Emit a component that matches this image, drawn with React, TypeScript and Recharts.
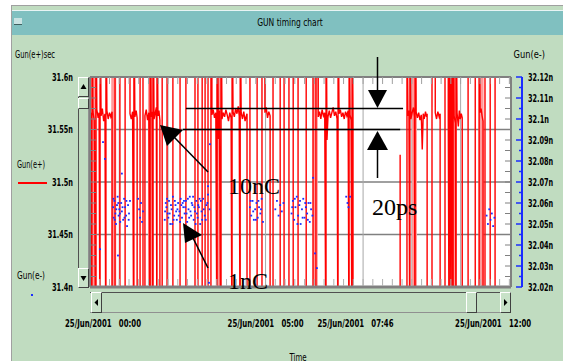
import React from "react";
import {
  CartesianGrid,
  ComposedChart,
  Line,
  ReferenceLine,
  Scatter,
  XAxis,
  YAxis,
} from "recharts";

// time in hours from 25/Jun/2001 00:00, values in ns
// Gun(e+): readings off the scale are kept at 31.3 (below) / 31.7 (above)
const gunPlus: [number, number][] = [
  [-0.4, 31.561], [-0.37, 31.566], [-0.34, 31.3], [-0.34, 31.7], [-0.31, 31.567],
  [-0.27, 31.559], [-0.22, 31.3], [-0.22, 31.7], [-0.19, 31.569], [-0.15, 31.561],
  [-0.12, 31.566], [-0.09, 31.3], [-0.09, 31.7], [-0.06, 31.563], [-0.02, 31.57],
  [0.02, 31.558], [0.06, 31.565], [0.09, 31.3], [0.09, 31.7], [0.12, 31.568],
  [0.16, 31.56], [0.2, 31.566], [0.24, 31.562], [0.28, 31.567], [0.28, 31.3],
  [0.37, 31.3], [0.37, 31.7], [0.52, 31.7], [0.52, 31.3], [0.68, 31.3], [0.68, 31.7],
  [0.83, 31.7], [0.83, 31.565], [0.87, 31.56], [0.91, 31.567], [0.95, 31.3], [0.95, 31.7],
  [0.98, 31.562], [1.02, 31.568], [1.05, 31.561], [1.05, 31.3],
  [1.14, 31.3], [1.14, 31.7], [1.23, 31.7], [1.23, 31.3],
  [1.29, 31.3], [1.29, 31.563], [1.33, 31.569], [1.37, 31.559], [1.41, 31.566],
  [1.45, 31.3], [1.45, 31.7], [1.48, 31.562], [1.51, 31.567], [1.54, 31.3], [1.54, 31.7],
  [1.57, 31.56], [1.61, 31.566], [1.64, 31.571], [1.66, 31.3], [1.66, 31.7],
  [1.69, 31.563], [1.72, 31.568], [1.75, 31.559], [1.75, 31.3],
  [1.82, 31.3], [1.82, 31.7], [1.97, 31.7], [1.97, 31.3], [2.15, 31.3], [2.15, 31.7],
  [2.37, 31.7], [2.37, 31.3], [2.55, 31.3], [2.55, 31.7], [2.83, 31.7], [2.83, 31.3],
  [2.92, 31.3], [2.92, 31.7], [3.05, 31.7], [3.05, 31.3], [3.14, 31.3], [3.14, 31.7],
  [3.23, 31.7], [3.23, 31.3], [3.32, 31.3], [3.32, 31.7],
  [3.35, 31.7], [3.35, 31.564], [3.39, 31.569], [3.43, 31.561], [3.47, 31.566],
  [3.51, 31.3], [3.51, 31.7], [3.55, 31.541], [3.58, 31.568], [3.63, 31.3], [3.63, 31.7],
  [3.66, 31.56], [3.7, 31.566], [3.74, 31.562], [3.78, 31.569], [3.82, 31.564],
  [3.86, 31.558], [3.9, 31.566], [3.94, 31.561], [3.97, 31.3], [3.97, 31.7],
  [4.0, 31.567], [4.04, 31.562], [4.08, 31.57], [4.12, 31.565], [4.16, 31.572],
  [4.19, 31.563], [4.22, 31.3], [4.22, 31.7], [4.25, 31.566], [4.29, 31.56],
  [4.33, 31.567], [4.37, 31.558], [4.4, 31.562], [4.43, 31.565], [4.43, 31.3],
  [4.52, 31.3], [4.52, 31.7], [4.74, 31.7], [4.74, 31.3], [4.89, 31.3], [4.89, 31.7],
  [4.98, 31.7], [4.98, 31.566], [5.02, 31.571], [5.06, 31.561], [5.1, 31.567],
  [5.14, 31.563], [5.14, 31.3],
  [5.23, 31.3], [5.23, 31.7], [5.45, 31.7], [5.45, 31.3], [5.57, 31.3], [5.57, 31.7],
  [5.72, 31.7], [5.72, 31.3], [5.85, 31.3], [5.85, 31.7], [6.0, 31.7], [6.0, 31.3],
  [6.25, 31.3], [6.25, 31.7], [6.46, 31.7], [6.46, 31.3], [6.55, 31.3], [6.55, 31.7],
  [6.62, 31.7], [6.62, 31.562], [6.66, 31.567], [6.7, 31.56], [6.74, 31.569],
  [6.78, 31.563], [6.82, 31.566], [6.86, 31.3], [6.86, 31.7], [6.89, 31.54],
  [6.92, 31.562], [6.96, 31.568], [7.0, 31.561], [7.04, 31.566], [7.08, 31.571],
  [7.12, 31.563], [7.16, 31.567], [7.2, 31.56], [7.23, 31.3], [7.23, 31.7],
  [7.26, 31.565], [7.3, 31.569], [7.34, 31.562], [7.38, 31.566], [7.42, 31.56],
  [7.46, 31.567], [7.5, 31.563], [7.54, 31.568], [7.57, 31.3], [7.57, 31.7],
  [7.6, 31.564], [7.63, 31.559], [7.66, 31.3], [7.66, 31.7], [7.69, 31.566], [7.69, 31.3],
  [9.14, 31.3], [9.14, 31.526], [9.14, 31.3],
  [9.35, 31.3], [9.35, 31.7], [9.38, 31.563], [9.41, 31.568], [9.44, 31.3], [9.44, 31.7],
  [9.47, 31.56], [9.51, 31.566], [9.55, 31.571], [9.58, 31.562], [9.6, 31.3], [9.6, 31.7],
  [9.63, 31.567], [9.67, 31.561], [9.71, 31.566], [9.75, 31.559], [9.79, 31.564],
  [9.82, 31.531], [9.85, 31.565], [9.88, 31.56], [9.92, 31.567], [9.95, 31.562],
  [9.97, 31.565], [9.97, 31.3],
  [10.12, 31.3], [10.12, 31.7],
  [10.22, 31.7], [10.22, 31.566], [10.26, 31.56], [10.3, 31.567], [10.34, 31.562],
  [10.37, 31.565], [10.37, 31.3],
  [10.52, 31.3], [10.52, 31.7],
  [10.62, 31.7], [10.62, 31.561], [10.65, 31.3], [10.65, 31.7], [10.68, 31.558],
  [10.71, 31.3], [10.71, 31.7], [10.74, 31.545], [10.77, 31.3], [10.77, 31.7],
  [10.8, 31.563], [10.84, 31.556], [10.86, 31.3], [10.86, 31.7], [10.89, 31.566],
  [10.93, 31.553], [10.96, 31.568], [10.99, 31.56], [11.02, 31.565], [11.05, 31.561],
  [11.05, 31.3],
  [11.23, 31.3], [11.23, 31.7], [11.45, 31.7], [11.45, 31.3],
  [11.57, 31.3], [11.57, 31.7], [11.6, 31.566], [11.63, 31.57], [11.66, 31.563],
  [11.69, 31.558], [11.69, 31.3],
  [11.75, 31.3], [11.75, 31.7], [11.91, 31.7], [11.91, 31.3], [12.06, 31.3], [12.06, 31.7],
];

// dense bursts of Gun(e+) jumps, seen as wide light-red stripes
const gunPlusBursts: [number, number][] = [
  [-0.26, 31.3], [-0.26, 31.7], [0.33, 31.7], [0.33, 31.3], [1.46, 31.3], [1.46, 31.7],
  [3.56, 31.7], [3.56, 31.3], [6.53, 31.3], [6.53, 31.7], [9.58, 31.7], [9.58, 31.3],
  [10.7, 31.3], [10.7, 31.7], [10.8, 31.7], [10.8, 31.3], [11.63, 31.3], [11.63, 31.7],
];

// Gun(e-) timing, ns
const gunMinus: [number, number][] = [
  [-0.09, 32.038], [0.0, 32.089], [0.06, 32.081], [0.46, 32.035], [0.58, 32.074],
  [0.31, 32.058], [0.33, 32.053], [0.35, 32.061], [0.38, 32.055], [0.4, 32.05],
  [0.43, 32.059], [0.45, 32.063], [0.48, 32.054], [0.5, 32.057], [0.53, 32.051],
  [0.56, 32.06], [0.58, 32.056], [0.62, 32.052], [0.65, 32.062], [0.68, 32.058],
  [0.71, 32.054], [0.74, 32.049], [0.77, 32.059], [0.8, 32.055], [0.83, 32.061],
  [0.32, 32.062], [0.36, 32.052], [0.41, 32.057], [0.47, 32.06], [0.52, 32.055],
  [0.6, 32.058], [0.66, 32.053], [0.72, 32.061], [0.79, 32.052],
  [1.08, 32.062], [1.11, 32.057], [1.14, 32.053], [1.17, 32.06], [1.2, 32.051], [1.23, 32.056],
  [1.9, 32.052], [1.93, 32.06], [1.95, 32.058], [1.99, 32.055], [2.01, 32.053],
  [2.03, 32.061], [2.07, 32.05], [2.09, 32.059], [2.11, 32.057], [2.15, 32.063],
  [2.17, 32.052], [2.19, 32.054], [2.23, 32.059], [2.25, 32.056], [2.27, 32.052],
  [2.31, 32.06], [2.33, 32.054], [2.35, 32.056], [2.39, 32.062], [2.41, 32.059],
  [2.43, 32.053], [2.47, 32.058], [2.49, 32.061], [2.51, 32.055], [2.55, 32.061],
  [2.57, 32.055], [2.59, 32.051], [2.63, 32.057], [2.65, 32.053], [2.67, 32.063],
  [2.71, 32.054], [2.73, 32.06], [2.75, 32.059], [2.79, 32.052], [2.81, 32.058],
  [2.83, 32.056], [2.87, 32.061], [2.89, 32.055], [2.91, 32.053], [2.95, 32.058],
  [2.97, 32.062], [2.99, 32.05], [3.03, 32.056], [3.05, 32.052], [3.08, 32.062],
  [3.13, 32.054], [3.18, 32.059], [3.23, 32.064], [3.28, 32.057],
  [1.91, 32.056], [1.97, 32.062], [2.05, 32.055], [2.13, 32.05], [2.21, 32.061],
  [2.29, 32.057], [2.37, 32.051], [2.45, 32.06], [2.53, 32.058], [2.61, 32.062],
  [2.69, 32.056], [2.77, 32.063], [2.85, 32.05], [2.93, 32.059], [3.01, 32.061],
  [3.1, 32.057], [3.16, 32.052], [3.21, 32.06],
  [3.23, 32.068], [3.26, 32.022], [3.29, 32.088],
  [4.52, 32.058], [4.56, 32.054], [4.6, 32.061], [4.64, 32.052], [4.68, 32.057],
  [4.72, 32.06], [4.76, 32.053], [4.8, 32.058], [4.84, 32.055], [4.88, 32.062], [4.92, 32.051],
  [4.54, 32.061], [4.62, 32.056], [4.7, 32.052], [4.78, 32.061], [4.86, 32.057],
  [5.3, 32.057], [5.35, 32.061], [5.4, 32.054], [5.45, 32.059], [5.5, 32.056], [5.55, 32.06],
  [5.8, 32.055], [5.84, 32.061], [5.88, 32.052], [5.92, 32.058], [5.96, 32.063],
  [6.0, 32.054], [6.04, 32.059], [6.08, 32.05], [6.12, 32.057], [6.16, 32.062],
  [6.2, 32.053], [6.24, 32.058], [6.28, 32.055], [6.32, 32.06], [6.36, 32.051],
  [6.4, 32.057], [6.44, 32.054], [6.46, 32.072], [6.52, 32.036], [6.58, 32.029],
  [5.82, 32.058], [5.9, 32.062], [5.98, 32.05], [6.06, 32.061], [6.14, 32.053],
  [6.22, 32.06], [6.3, 32.052], [6.38, 32.06],
  [7.48, 32.063], [7.52, 32.06], [7.55, 32.058], [7.6, 32.063],
  [11.8, 32.054], [11.84, 32.05], [11.88, 32.057], [11.92, 32.052], [11.96, 32.055],
  [12.0, 32.049], [12.04, 32.053],
];

const timeLabels = [
  { t: 0, text: "25/Jun/2001   00:00" },
  { t: 5, text: "25/Jun/2001   05:00" },
  { t: 7.767, text: "25/Jun/2001   07:46" },
  { t: 12, text: "25/Jun/2001   12:00" },
];
const leftTicks = [
  31.4, 31.41, 31.42, 31.43, 31.44, 31.45, 31.46, 31.47, 31.48, 31.49, 31.5,
  31.51, 31.52, 31.53, 31.54, 31.55, 31.56, 31.57, 31.58, 31.59, 31.6,
];
const rightTicks = [
  32.02, 32.025, 32.03, 32.035, 32.04, 32.045, 32.05, 32.055, 32.06, 32.065, 32.07,
  32.075, 32.08, 32.085, 32.09, 32.095, 32.1, 32.105, 32.11, 32.115, 32.12,
];
const gridLevels = [31.45, 31.5, 31.55];
const gridTimes = [0.5, 2, 3.5, 5, 6.5, 8, 9.5, 11];
// the two 20 ps marker lines
const spreadLines = [
  { y: 31.57, from: 2.55, to: 9.23 },
  { y: 31.55, from: 2.46, to: 9.14 },
];

const X_DOMAIN: [number, number] = [-0.4, 12.55];
const LEFT_DOMAIN: [number, number] = [31.4, 31.6];
const RIGHT_DOMAIN: [number, number] = [32.02, 32.12];

const minorTimes = Array.from({ length: 43 }, (_, i) => +(-0.1 + 0.3 * i).toFixed(2));
const labelTimes = timeLabels.map((d) => d.t);
const bottomTicks = Array.from(new Set([...minorTimes, ...labelTimes])).sort((a, b) => a - b);

const rows = (pts: [number, number][]) => pts.map(([t, v]) => ({ t, v }));

const RED = "#ff0000";
const PINK = "#ff9a9a";
const BLUE = "#1a2cff";
const FRAME = "#808080";
const GREEN = "#c0dcc0";
const TEAL = "#80c0c0";
const NARROW = '"Liberation Sans Narrow", "DejaVu Sans Condensed", sans-serif';
const SERIF = '"Liberation Serif", "DejaVu Serif", serif';

const fmt = (v: number) => `${Number(v.toFixed(3))}n`;

// old X bitmap font look: squeeze each label to ~4.2px per character
const Narrow = ({ x, y, anchor = "start", bold = false, size = 10, per = 4.2, children }: any) => (
  <text x={x} y={y} textAnchor={anchor} dominantBaseline="central" fontFamily={NARROW}
    fontSize={size} fontWeight={bold ? "bold" : "normal"} fill="#000"
    textLength={String(children).length * per} lengthAdjust="spacingAndGlyphs"
    style={{ whiteSpace: "pre" }}>
    {children}
  </text>
);

const LeftTick = ({ x, y, payload }: any) => {
  const v = payload.value;
  const major = Math.round(v * 100) % 5 === 0;
  const edge = v < 31.405 || v > 31.595;
  return (
    <g>
      {major && <Narrow x={x} y={y} anchor="end" bold>{fmt(v)}</Narrow>}
      {!edge && <line x1={x + 17} x2={x + 23} y1={y} y2={y} stroke={FRAME} />}
    </g>
  );
};

const RightTick = ({ x, y, payload }: any) => {
  const v = payload.value;
  const major = Math.round(v * 1000) % 10 === 0;
  const edge = v < 32.022 || v > 32.118;
  return (
    <g>
      <line x1={x - (major ? 6 : 3)} x2={x} y1={y} y2={y} stroke={BLUE} strokeWidth={1.5} />
      {major && <Narrow x={x + 6} y={y} bold>{fmt(v)}</Narrow>}
      {!edge && <line x1={x - 17} x2={x - 11} y1={y} y2={y} stroke={FRAME} />}
    </g>
  );
};

const TopTick = ({ x, y }: any) => (
  <line x1={x} x2={x} y1={y} y2={y + 7} stroke="#a0a0a0" />
);

const BottomTick = ({ x, y, payload }: any) => {
  const v = payload.value;
  const label = timeLabels.find((d) => d.t === v);
  const minor = minorTimes.includes(v);
  return (
    <g>
      {minor && <line x1={x} x2={x} y1={y - 8} y2={y - 1} stroke="#b0b0b0" />}
      {label && <Narrow x={x} y={y + 36} anchor="middle" bold per={4.0}>{label.text}</Narrow>}
    </g>
  );
};

const BlueDot = (props: any) => (
  <rect x={props.cx - 0.9} y={props.cy - 0.9} width={1.8} height={1.8} fill={BLUE} />
);

const button: React.CSSProperties = {
  position: "absolute",
  boxSizing: "border-box",
  background: "#c8e2c8",
  borderTop: "1px solid #ffffff",
  borderLeft: "1px solid #ffffff",
  borderRight: "1px solid #404040",
  borderBottom: "1px solid #404040",
};

const Arrow = ({ pts }: { pts: string }) => <polygon points={pts} fill="#000" />;

export default function App() {
  return (
    <div style={{ position: "fixed", left: 0, top: 0, width: 563, height: 361, background: "#fff", overflow: "hidden" }}>
      <div style={{ position: "absolute", left: 11, top: 5, right: 0, bottom: 0, background: GREEN, borderLeft: "1px solid #a0a0a0", borderTop: "1px solid #a0a0a0" }} />
      <div style={{ position: "absolute", left: 12, top: 10, right: 0, height: 24, background: TEAL, borderTop: "1px solid #e8f4f4" }}>
        <div style={{ position: "absolute", left: 2, top: 7, width: 8, height: 6, background: "#c8e2e2", borderBottom: "1px solid #406060" }} />
      </div>

      <div style={{ position: "absolute", left: 0, top: 0 }}>
        <ComposedChart width={563} height={361} margin={{ top: 75, right: 0, bottom: 24, left: 0 }}>
          <CartesianGrid xAxisId="zGridX" yAxisId="zGridY" vertical={false} stroke={FRAME} strokeWidth={1.6} fill="#ffffff" />
          <CartesianGrid xAxisId="zGridX" yAxisId="zGridY" horizontal={false} stroke="#a8a8a8" />
          <XAxis xAxisId="top" orientation="top" type="number" dataKey="t" domain={X_DOMAIN}
            ticks={minorTimes} interval={0} allowDataOverflow height={2} tickSize={0} tickMargin={0}
            tickLine={false} tick={TopTick} axisLine={{ stroke: FRAME, strokeWidth: 2 }} />
          <XAxis xAxisId="time" type="number" dataKey="t" domain={X_DOMAIN}
            ticks={bottomTicks} interval={0} allowDataOverflow height={50} tickSize={0} tickMargin={0}
            tickLine={false} tick={BottomTick} axisLine={{ stroke: FRAME, strokeWidth: 3 }} />
          <XAxis xAxisId="zGridX" type="number" dataKey="t" domain={X_DOMAIN} ticks={gridTimes}
            allowDataOverflow hide height={0} />
          <YAxis yAxisId="left" type="number" domain={LEFT_DOMAIN} ticks={leftTicks} interval={0}
            allowDataOverflow width={90} tickSize={0} tickMargin={17} tickLine={false}
            tick={LeftTick} axisLine={{ stroke: FRAME, strokeWidth: 2 }} />
          <YAxis yAxisId="zGridY" type="number" domain={LEFT_DOMAIN} ticks={gridLevels}
            allowDataOverflow hide width={0} />
          <YAxis yAxisId="aPad" orientation="right" type="number" domain={LEFT_DOMAIN}
            allowDataOverflow width={11} tick={false} tickLine={false} axisLine={{ stroke: FRAME, strokeWidth: 2 }} />
          <YAxis yAxisId="eMinus" orientation="right" type="number" domain={RIGHT_DOMAIN}
            ticks={rightTicks} interval={0} allowDataOverflow width={41} tickSize={0} tickMargin={0}
            tickLine={false} tick={RightTick} axisLine={{ stroke: BLUE, strokeWidth: 2 }} />
          <Line xAxisId="time" yAxisId="left" data={rows(gunPlusBursts)} dataKey="v" type="linear"
            stroke={PINK} strokeWidth={5} dot={false} isAnimationActive={false} />
          <Line xAxisId="time" yAxisId="left" data={rows(gunPlus)} dataKey="v" type="linear"
            stroke={RED} strokeWidth={1.4} dot={false} isAnimationActive={false} />
          <Scatter xAxisId="time" yAxisId="eMinus" data={rows(gunMinus)} dataKey="v"
            fill={BLUE} shape={BlueDot} isAnimationActive={false} />
          {spreadLines.map((s) => (
            <ReferenceLine key={s.y} xAxisId="time" yAxisId="left"
              segment={[{ x: s.from, y: s.y }, { x: s.to, y: s.y }]}
              stroke="#000" strokeWidth={1.5} ifOverflow="visible" />
          ))}
        </ComposedChart>
      </div>

      {/* vertical scrollbar */}
      <div style={{ position: "absolute", left: 78, top: 77, width: 11, height: 211, boxSizing: "border-box", background: GREEN, borderLeft: "1px solid #505050", borderRight: "1px solid #909090" }} />
      <div style={{ ...button, left: 78, top: 77, width: 11, height: 20 }}>
        <svg width={9} height={18} style={{ position: "absolute", left: 0, top: 0 }}><polygon points="1.5,11 7.5,11 4.5,6" fill="#000" /></svg>
      </div>
      <div style={{ ...button, left: 78, top: 98, width: 11, height: 11 }} />
      <div style={{ ...button, left: 78, top: 268, width: 11, height: 20 }}>
        <svg width={9} height={18} style={{ position: "absolute", left: 0, top: 0 }}><polygon points="1.5,7 7.5,7 4.5,12" fill="#000" /></svg>
      </div>

      {/* horizontal scrollbar */}
      <div style={{ position: "absolute", left: 90, top: 292, width: 421, height: 21, boxSizing: "border-box", background: GREEN, borderTop: "1px solid #505050", borderBottom: "1px solid #909090" }} />
      <div style={{ ...button, left: 91, top: 292, width: 11, height: 21 }}>
        <svg width={9} height={19} style={{ position: "absolute", left: 0, top: 0 }}><polygon points="6,6 6,13 2.5,9.5" fill="#000" /></svg>
      </div>
      <div style={{ ...button, left: 466, top: 292, width: 11, height: 21 }} />
      <div style={{ ...button, left: 500, top: 292, width: 11, height: 21 }}>
        <svg width={9} height={19} style={{ position: "absolute", left: 0, top: 0 }}><polygon points="3,6 3,13 6.5,9.5" fill="#000" /></svg>
      </div>

      <svg width={563} height={361} style={{ position: "absolute", left: 0, top: 0, pointerEvents: "none" }}>
        <Narrow x={290} y={22} anchor="middle" per={4.1}>GUN timing chart</Narrow>
        <Narrow x={15} y={54} per={4}>Gun(e+)sec</Narrow>
        <Narrow x={545} y={54} anchor="end" per={4.5}>Gun(e-)</Narrow>
        <Narrow x={17} y={164} per={4}>Gun(e+)</Narrow>
        <Narrow x={17} y={275} per={4}>Gun(e-)</Narrow>
        <Narrow x={298} y={357} anchor="middle" per={4.3}>Time</Narrow>
        <line x1={18} x2={47} y1={183} y2={183} stroke={RED} strokeWidth={2} />
        <rect x={31} y={294} width={2} height={2} fill={BLUE} />

        {/* 20 ps markers */}
        <line x1={377.5} x2={377.5} y1={57} y2={92} stroke="#000" strokeWidth={1.5} />
        <Arrow pts="368,90 387,90 377.5,108" />
        <Arrow pts="377.5,131 367,150 388,150" />
        <line x1={377.5} x2={377.5} y1={148} y2={178} stroke="#000" strokeWidth={1.5} />
        {/* 10nC pointer */}
        <Arrow pts="160,125 183,130 167,146" />
        <line x1={174} x2={208} y1={137} y2={172} stroke="#000" strokeWidth={1.5} />
        {/* 1nC pointer */}
        <Arrow pts="183,223 202,235 185,243" />
        <line x1={193} x2={208} y1={238} y2={268} stroke="#000" strokeWidth={1.5} />
        <g fontFamily={SERIF} fontSize={24} fill="#000">
          <text x={228} y={194}>10nC</text>
          <text x={372} y={215}>20ps</text>
          <text x={228} y={289}>1nC</text>
        </g>
      </svg>
    </div>
  );
}
